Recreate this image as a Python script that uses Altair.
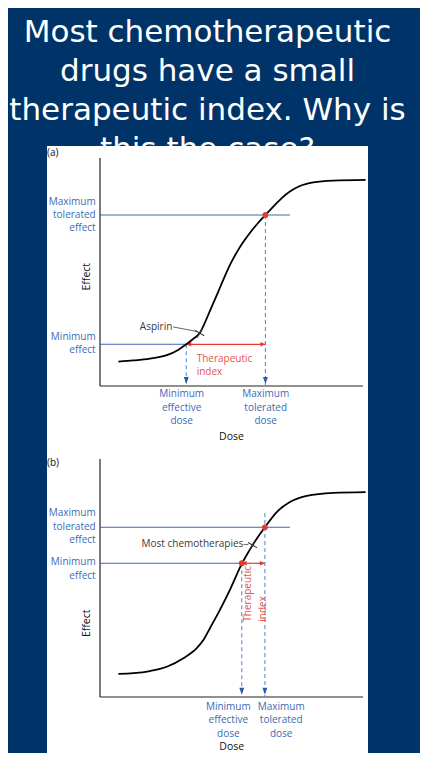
import altair as alt
import pandas as pd

# ---------------- values ----------------
TITLE = "Most chemotherapeutic\ndrugs have a small\ntherapeutic index. Why is\nthis the case?"

# (a) dose-response curve: Aspirin (wide therapeutic index)
dose_a = [0.70, 1.27, 1.90, 2.54, 2.97, 3.28, 3.54, 3.79, 3.98, 4.23, 4.49, 4.74, 4.99,
          5.25, 5.50, 5.75, 6.01, 6.29, 6.58, 6.91, 7.22, 7.60, 8.11, 8.87, 10.10]
effect_a = [10.7, 11.2, 12.0, 13.5, 15.8, 18.3, 20.6, 23.2, 27.6, 34.3, 41.2, 48.0, 54.2,
            59.6, 64.0, 67.9, 71.5, 75.0, 78.6, 82.4, 85.3, 87.7, 89.3, 90.1, 90.4]

# (b) dose-response curve: most chemotherapies (narrow therapeutic index)
dose_b = [0.70, 1.27, 1.90, 2.54, 3.17, 3.68, 3.93, 4.18, 4.56, 4.94, 5.39, 5.83, 6.27,
          6.72, 7.22, 7.86, 8.87, 10.10]
effect_b = [9.7, 10.0, 10.9, 12.7, 16.3, 20.5, 23.9, 28.9, 36.6, 45.0, 55.9, 64.3, 71.3,
            77.7, 81.9, 84.5, 85.8, 86.1]

min_effect = {"a": 18.3, "b": 56.2}
max_effect = {"a": 75.0, "b": 71.3}
min_dose = {"a": 3.28, "b": 5.39}
max_dose = {"a": 6.29, "b": 6.27}
max_line_end = 7.22
max_dash_top = {"a": 75.0, "b": 77.3}
red_dot_dose = {"a": [6.29], "b": [5.39, 6.27]}
red_dot_effect = {"a": [75.0], "b": [56.2, 71.3]}
drug_name = {"a": "Aspirin", "b": "Most chemotherapies"}
drug_dose = {"a": [3.79], "b": [5.80]}
drug_effect = {"a": [23.2], "b": [63.8]}
leader_dose = {"a": [2.78], "b": [5.46]}
leader_dose2 = {"a": [3.70], "b": [5.64]}
leader_effect = {"a": [25.9], "b": [64.1]}
leader_effect2 = {"a": [23.9], "b": [64.1]}

# ---------------- layout / style ----------------
W, H = 412, 745
X_RANGE = [92, 355]
Y_RANGE = {"a": [378, 150], "b": [689, 451]}
BG = "#003468"
BLUE_LINE = "#3c69b0"
BLUE_TEXT = "#3b6bb5"
BLUE_DASH = "#5d8fd6"
BLUE_HEAD = "#2a5aa8"
RED = "#e5392f"
RED_TEXT = "#e4554d"
INK = "#111111"
GRAY = "#3a3a3a"
FONT = "Open Sans"

DOWN_HEAD = "M0,0L-0.7,-2L0.7,-2Z"
RIGHT_HEAD = "M0,0L-2,-0.9L-2,0.9Z"
LEFT_HEAD = "M0,0L2,-0.9L2,0.9Z"
CROSS = "M-1,0L1,0M0,-1L0,1"

one = pd.DataFrame({"k": [0]})


def xs():
    return alt.Scale(domain=[0, 10], range=X_RANGE, nice=False, zero=False)


def ys(p):
    return alt.Scale(domain=[0, 100], range=Y_RANGE[p], nice=False, zero=False)


def X(p, f="dose"):
    return alt.X(f"{f}:Q", scale=xs(), axis=None)


def Y(p, f="effect"):
    return alt.Y(f"{f}:Q", scale=ys(p), axis=None)


def text_layer(rows, **kw):
    df = pd.DataFrame(rows, columns=["text", "px", "py"])
    return alt.Chart(df).mark_text(font=FONT, lineBreak="\n", **kw).encode(
        x=alt.X("px:Q", scale=None, axis=None),
        y=alt.Y("py:Q", scale=None, axis=None),
        text="text:N",
    )


def panel(p, dose, effect, labels):
    layers = []
    axes = pd.DataFrame({"dose": [0, 0], "dose2": [0, 10], "effect": [0, 0], "effect2": [100, 0]})
    layers.append(alt.Chart(axes).mark_rule(color="#222222", strokeWidth=1.2).encode(
        x=X(p), x2="dose2:Q", y=Y(p), y2="effect2:Q"))

    levels = pd.DataFrame({"dose": [0, 0], "dose2": [min_dose[p], max_line_end],
                           "effect": [min_effect[p], max_effect[p]]})
    layers.append(alt.Chart(levels).mark_rule(color=BLUE_LINE, strokeWidth=1.1).encode(
        x=X(p), x2="dose2:Q", y=Y(p)))

    drops = pd.DataFrame({"dose": [min_dose[p], max_dose[p]],
                          "effect": [min_effect[p], max_dash_top[p]], "effect2": [0, 0]})
    layers.append(alt.Chart(drops).mark_rule(color=BLUE_DASH, strokeWidth=1.1, strokeDash=[4, 3]).encode(
        x=X(p), y=Y(p), y2="effect2:Q"))

    heads = pd.DataFrame({"dose": [min_dose[p], max_dose[p]], "effect": [0.9, 0.9]})
    layers.append(alt.Chart(heads).mark_point(shape=DOWN_HEAD, size=49, filled=True, opacity=1,
                                               color=BLUE_HEAD, strokeWidth=0).encode(x=X(p), y=Y(p)))

    ti = pd.DataFrame({"dose": [min_dose[p]], "dose2": [max_dose[p]], "effect": [min_effect[p]]})
    layers.append(alt.Chart(ti).mark_rule(color=RED, strokeWidth=1.2).encode(
        x=X(p), x2="dose2:Q", y=Y(p)))
    lh = pd.DataFrame({"dose": [min_dose[p]], "effect": [min_effect[p]]})
    rh = pd.DataFrame({"dose": [max_dose[p]], "effect": [min_effect[p]]})
    layers.append(alt.Chart(lh).mark_point(shape=LEFT_HEAD, size=25, filled=True, opacity=1,
                                            color=RED, strokeWidth=0).encode(x=X(p), y=Y(p)))
    layers.append(alt.Chart(rh).mark_point(shape=RIGHT_HEAD, size=25, filled=True, opacity=1,
                                            color=RED, strokeWidth=0).encode(x=X(p), y=Y(p)))

    curve = pd.DataFrame({"dose": dose, "effect": effect})
    layers.append(alt.Chart(curve).mark_line(color="black", strokeWidth=1.8, interpolate="monotone").encode(
        x=X(p), y=Y(p)))

    dots = pd.DataFrame({"dose": red_dot_dose[p], "effect": red_dot_effect[p]})
    layers.append(alt.Chart(dots).mark_circle(size=34, color=RED, opacity=1).encode(x=X(p), y=Y(p)))

    lead = pd.DataFrame({"dose": leader_dose[p], "dose2": leader_dose2[p],
                         "effect": leader_effect[p], "effect2": leader_effect2[p]})
    layers.append(alt.Chart(lead).mark_rule(color="#555555", strokeWidth=0.9).encode(
        x=X(p), x2="dose2:Q", y=Y(p), y2="effect2:Q"))
    mk = pd.DataFrame({"dose": drug_dose[p], "effect": drug_effect[p]})
    layers.append(alt.Chart(mk).mark_point(shape=CROSS, size=110, filled=False, angle=30,
                                            color=GRAY, strokeWidth=1, opacity=1).encode(x=X(p), y=Y(p)))

    layers.append(text_layer(labels["left"], align="right", baseline="middle", fontSize=10,
                             color=BLUE_TEXT, lineHeight=13.3))
    layers.append(text_layer(labels["bottom"], align="center", baseline="middle", fontSize=10,
                             color=BLUE_TEXT, lineHeight=13.5))
    layers.append(text_layer(labels["dose"], align="center", baseline="middle", fontSize=10.5, color=INK))
    layers.append(text_layer(labels["effect"], align="center", baseline="middle", fontSize=10.5,
                             color=INK, angle=270))
    layers.append(text_layer(labels["drug"], align="right", baseline="middle", fontSize=10, color=GRAY))
    layers.append(text_layer(labels["tag"], align="left", baseline="middle", fontSize=10, color=INK))
    if p == "a":
        layers.append(text_layer(labels["ti"], align="left", baseline="middle", fontSize=10,
                                 color=RED_TEXT, lineHeight=13))
    else:
        layers.append(text_layer(labels["ti"], align="left", baseline="middle", fontSize=10,
                                 color=RED_TEXT, angle=270))
    return layers


labels_a = {
    "left": [("Maximum\ntolerated\neffect", 87.7, 193.7), ("Minimum\neffect", 87.7, 328.7)],
    "bottom": [("Minimum\neffective\ndose", 173.7, 386), ("Maximum\ntolerated\ndose", 257.7, 386)],
    "dose": [("Dose", 223.5, 429.3)],
    "effect": [("Effect", 79.3, 268.7)],
    "drug": [(drug_name["a"], 164.3, 318.7)],
    "tag": [("(a)", 39, 144.7)],
    "ti": [("Therapeutic\nindex", 188.7, 351.3)],
}
labels_b = {
    "left": [("Maximum\ntolerated\neffect", 87.7, 505.3), ("Minimum\neffect", 87.7, 554.3)],
    "bottom": [("Minimum\neffective\ndose", 220.3, 698.7), ("Maximum\ntolerated\ndose", 273.2, 698.7)],
    "dose": [("Dose", 223.7, 739.0)],
    "effect": [("Effect", 78.7, 615.3)],
    "drug": [(drug_name["b"], 235.3, 536)],
    "tag": [("(b)", 39, 455.3)],
    "ti": [("Therapeutic", 240.3, 613.7), ("index", 254.5, 613.7)],
}

title = alt.Chart(pd.DataFrame({"t": [TITLE]})).mark_text(
    font="DejaVu Sans", fontSize=31, color="white", align="center", baseline="alphabetic",
    lineBreak="\n", lineHeight=38.8,
).encode(x=alt.value(199.5), y=alt.value(34.3), text="t:N")

sheet = alt.Chart(one).mark_rect(color="white", opacity=1).encode(
    x=alt.value(39), x2=alt.value(360), y=alt.value(138), y2=alt.value(745))

chart = alt.layer(
    title, sheet,
    *panel("a", dose_a, effect_a, labels_a),
    *panel("b", dose_b, effect_b, labels_b),
).resolve_scale(x="independent", y="independent").properties(
    width=W, height=H, background=BG, padding=0,
    autosize=alt.AutoSizeParams(type="none"),
).configure_view(strokeWidth=0)

chart.save("out.html", embed_options={"renderer": "svg", "actions": False})
